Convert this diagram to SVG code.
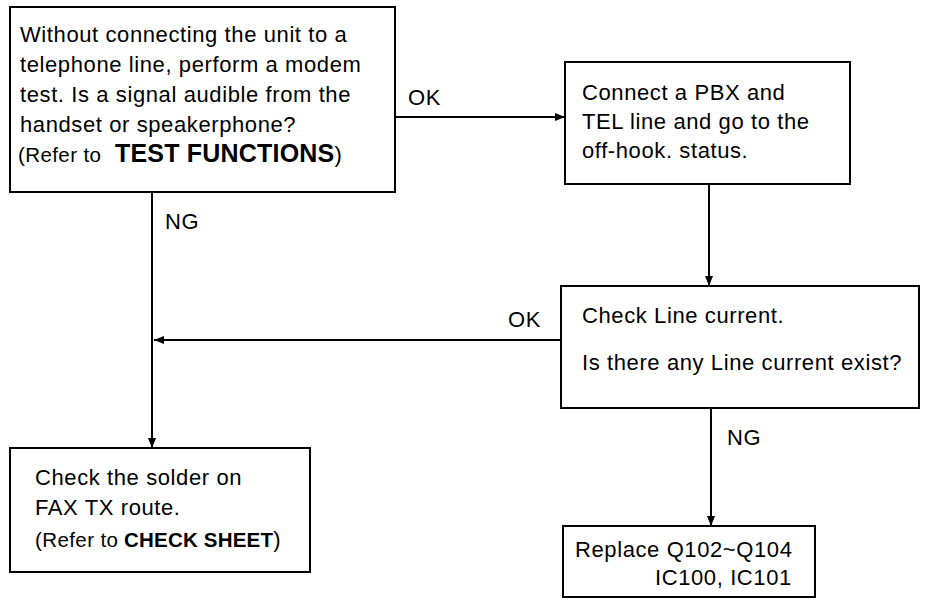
<svg xmlns="http://www.w3.org/2000/svg" width="929" height="604" viewBox="0 0 929 604">
<defs>
<marker id="arr" viewBox="0 0 10 8" refX="10" refY="4" markerWidth="10" markerHeight="8" markerUnits="userSpaceOnUse" orient="auto">
<path d="M0,0 L10,4 L0,8 Z" fill="#000"/>
</marker>
<style>
.box{fill:#fff;stroke:#000;stroke-width:2}
.t{font-family:"Liberation Sans",Arial,sans-serif;font-size:22px;fill:#000;letter-spacing:0.6px}
.s{font-size:20.5px;letter-spacing:0.4px}
.b{font-weight:bold;letter-spacing:0.2px}
.c{fill:none;stroke:#000;stroke-width:2;marker-end:url(#arr)}
</style>
</defs>
<rect width="929" height="604" fill="#fff"/>
<g id="connectors">
<line class="c" x1="395" y1="117" x2="565" y2="117"/>
<line class="c" x1="709" y1="184" x2="709" y2="286"/>
<line class="c" x1="561" y1="340" x2="154" y2="340"/>
<line class="c" x1="152" y1="192" x2="152" y2="448"/>
<line class="c" x1="711" y1="408" x2="711" y2="526"/>
<text class="t" x="408" y="105">OK</text>
<text class="t" x="165" y="229">NG</text>
<text class="t" x="508" y="327">OK</text>
<text class="t" x="727" y="445">NG</text>
</g>
<g id="n1">
<rect class="box" x="10" y="7" width="385" height="185"/>
<text class="t" x="20" y="42">Without connecting the unit to a</text>
<text class="t" x="20" y="72">telephone line, perform a modem</text>
<text class="t" x="20" y="102">test. Is a signal audible from the</text>
<text class="t" x="20" y="132">handset or speakerphone?</text>
<text class="t" x="18" y="162"><tspan class="s" font-size="21.5">(Refer to</tspan><tspan class="b" x="115" font-size="25">TEST FUNCTIONS</tspan>)</text>
</g>
<g id="n2">
<rect class="box" x="565" y="62" width="285" height="122"/>
<text class="t" x="582" y="100">Connect a PBX and</text>
<text class="t" x="582" y="129">TEL line and go to the</text>
<text class="t" x="582" y="158">off-hook. status.</text>
</g>
<g id="n3">
<rect class="box" x="561" y="286" width="358" height="122"/>
<text class="t" x="582" y="323">Check Line current.</text>
<text class="t" x="582" y="370">Is there any Line current exist?</text>
</g>
<g id="n4">
<rect class="box" x="10" y="448" width="300" height="124"/>
<text class="t" x="35" y="485">Check the solder on</text>
<text class="t" x="35" y="515">FAX TX route.</text>
<text class="t" x="35" y="547"><tspan class="s">(Refer to</tspan><tspan class="b" x="124" font-size="20.5">CHECK SHEET</tspan>)</text>
</g>
<g id="n5">
<rect class="box" x="563" y="526" width="252" height="71"/>
<text class="t" x="575" y="557">Replace Q102~Q104</text>
<text class="t" x="655" y="585">IC100, IC101</text>
</g>
</svg>
